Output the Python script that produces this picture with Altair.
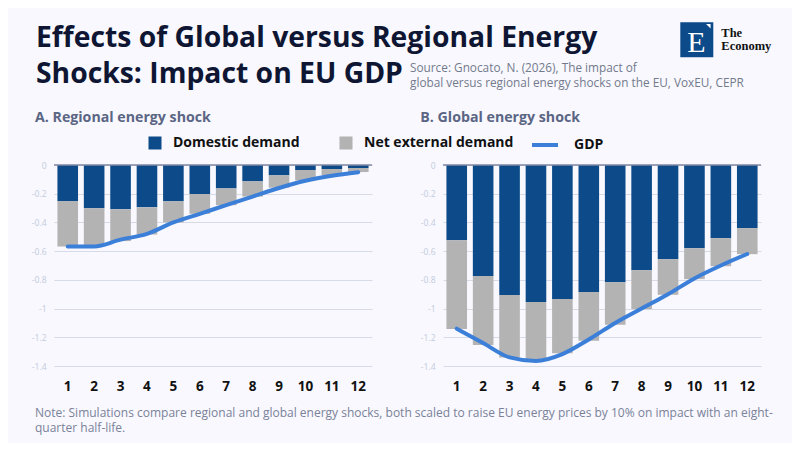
import altair as alt
import pandas as pd

quarters = list(range(1, 13))
components = ["Domestic demand", "Net external demand"]

reg_domestic = [-0.253, -0.302, -0.309, -0.295, -0.253, -0.202, -0.163, -0.114, -0.072, -0.035, -0.028, -0.021]
reg_external = [-0.314, -0.268, -0.221, -0.189, -0.147, -0.138, -0.117, -0.106, -0.086, -0.072, -0.044, -0.028]
reg_gdp = [-0.567, -0.567, -0.52, -0.48, -0.40, -0.34, -0.28, -0.22, -0.16, -0.11, -0.075, -0.05]

glo_domestic = [-0.524, -0.774, -0.906, -0.955, -0.934, -0.885, -0.816, -0.733, -0.656, -0.58, -0.51, -0.44]
glo_external = [-0.619, -0.48, -0.434, -0.403, -0.378, -0.339, -0.297, -0.271, -0.248, -0.215, -0.195, -0.181]
glo_gdp = [-1.14, -1.24, -1.34, -1.365, -1.317, -1.215, -1.10, -1.0, -0.90, -0.79, -0.70, -0.62]

y_ticks = [0, -0.2, -0.4, -0.6, -0.8, -1, -1.2, -1.4]

TITLE = "Effects of Global versus Regional Energy\nShocks: Impact on EU GDP"
SOURCE = "Source: Gnocato, N. (2026), The impact of\nglobal versus regional energy shocks on the EU, VoxEU, CEPR"
NOTE_1 = "Note: Simulations compare regional and global energy shocks, both scaled to raise EU energy prices by 10% on impact with an eight-"
NOTE_2 = "quarter half-life."
PANEL_A = "A. Regional energy shock"
PANEL_B = "B. Global energy shock"

BG = "#f8f8fe"
DARK_BLUE = "#0c4a89"
GREY = "#b3b3b3"
LINE_BLUE = "#3b7fd9"
FONT = "Open Sans"
W, H = 318, 201
Q_SORT = [str(q) for q in quarters]


def bars_df(dom, ext):
    rows = []
    for q, d, e in zip(quarters, dom, ext):
        rows.append({"quarter": str(q), "component": components[0], "value": d, "ord": 0})
        rows.append({"quarter": str(q), "component": components[1], "value": e, "ord": 1})
    return pd.DataFrame(rows)


def gdp_df(g):
    return pd.DataFrame({"quarter": Q_SORT, "series": ["GDP"] * 12, "value": g})


x_scale = alt.Scale(paddingInner=0.22, paddingOuter=0.13)
x_axis = alt.Axis(title=None, labelAngle=0, ticks=False, domain=False, grid=False,
                  labelFont=FONT, labelFontSize=13.5, labelFontWeight="bold",
                  labelColor="#111111", labelPadding=13)
y_scale = alt.Scale(domain=[-1.4, 0], nice=False)
y_axis = alt.Axis(title=None, values=y_ticks, labelExpr="datum.value + ''", ticks=False, domain=False,
                  grid=True, gridColor="#d6dbe7", gridWidth=1, labelFont=FONT, labelFontSize=8.5,
                  labelColor="#c3cbdc", labelPadding=8, labelOverlap=False, labelFlush=False)


def xe():
    return alt.X("quarter:N", sort=Q_SORT, scale=x_scale, axis=x_axis)


def ye(field):
    return alt.Y(field, scale=y_scale, axis=y_axis)


def text_layer(txt, x, y, size, color, weight="normal", font=FONT, align="left", baseline="alphabetic", lh=None):
    kw = {}
    if lh is not None:
        kw["lineHeight"] = lh
    return alt.Chart(pd.DataFrame({"t": [txt]})).mark_text(
        align=align, baseline=baseline, font=font, fontSize=size, fontWeight=weight,
        color=color, lineBreak="\n", **kw
    ).encode(text="t:N", x=alt.value(x), y=alt.value(y))


def panel(dom, ext, gdp):
    bars = alt.Chart(bars_df(dom, ext)).mark_bar().encode(
        x=xe(),
        y=alt.Y("value:Q", scale=y_scale, axis=y_axis, stack="zero"),
        fill=alt.Fill("component:N", scale=alt.Scale(domain=components, range=[DARK_BLUE, GREY]),
                      legend=alt.Legend(title=None, orient="none", direction="horizontal",
                                        legendX=94, legendY=-29, symbolType="square", symbolSize=169,
                                        symbolStrokeWidth=0, labelFont=FONT, labelFontSize=14,
                                        labelFontWeight="bold", labelColor="#111111", labelOffset=11,
                                        columnPadding=39, padding=0)),
        order=alt.Order("ord:Q", sort="ascending"),
    )
    zero = alt.Chart(pd.DataFrame({"z": [0]})).mark_rule(color="#7f88a3", strokeWidth=1.5).encode(
        y=ye("z:Q"), x=alt.value(0), x2=alt.value(W)
    )
    line = alt.Chart(gdp_df(gdp)).mark_line(strokeWidth=4, interpolate="monotone", strokeCap="round").encode(
        x=xe(),
        y=ye("value:Q"),
        stroke=alt.Stroke("series:N", scale=alt.Scale(domain=["GDP"], range=[LINE_BLUE]),
                          legend=alt.Legend(title=None, orient="none", legendX=476, legendY=-35,
                                            symbolType="stroke", symbolSize=676, symbolStrokeWidth=4,
                                            labelFont=FONT, labelFontSize=14, labelFontWeight="bold",
                                            labelColor="#111111", labelOffset=14, padding=0)),
    )
    return bars, zero, line


# Panel A (origin at page 54, 164.7)
ax0, ay0 = 54, 164.7
frame = alt.Chart(pd.DataFrame({"f": [0]})).mark_rect(color=BG, opacity=0).encode(
    x=alt.value(8 - ax0), x2=alt.value(792 - ax0), y=alt.value(8 - ay0), y2=alt.value(442 - ay0)
)
a_bars, a_zero, a_line = panel(reg_domestic, reg_external, reg_gdp)
a_layers = alt.layer(
    frame, a_bars, a_zero, a_line,
    text_layer(TITLE, 36 - ax0, 47 - ay0, 28.3, "#0e1633", weight="bold", lh=36),
    text_layer(SOURCE, 410 - ax0, 72 - ay0, 11.8, "#737a8c", lh=15),
    text_layer(PANEL_A, 35 - ax0, 122 - ay0, 14.2, "#5b6584", weight="bold"),
    text_layer(NOTE_1, 35 - ax0, 416.5 - ay0, 12, "#7a8299"),
    text_layer(NOTE_2, 35 - ax0, 432 - ay0, 12, "#7a8299"),
).properties(width=W, height=H)

# Panel B (origin at page 442.7, 164.7)
bx0, by0 = 442.7, 164.7
b_bars, b_zero, b_line = panel(glo_domestic, glo_external, glo_gdp)
logo_box = alt.Chart(pd.DataFrame({"f": [0]})).mark_rect(color="#0c4a89").encode(
    x=alt.value(680 - bx0), x2=alt.value(713 - bx0), y=alt.value(22 - by0), y2=alt.value(57 - by0)
)
logo_corner = alt.Chart(pd.DataFrame({"f": [0]})).mark_point(
    shape="M -1 -1 L 1 -1 L 1 1 Z", filled=True, color="white", opacity=1, size=20, strokeWidth=0
).encode(x=alt.value(708 - bx0), y=alt.value(26 - by0))
b_layers = alt.layer(
    b_bars, b_zero, b_line,
    text_layer(PANEL_B, 420 - bx0, 122 - by0, 14.2, "#5b6584", weight="bold"),
    logo_box, logo_corner,
    text_layer("E", 696 - bx0, 51.5 - by0, 30, "white", font="Liberation Serif", align="center"),
    text_layer("The", 721 - bx0, 37 - by0, 12.5, "#111111", weight="bold", font="Liberation Serif"),
    text_layer("Economy", 721 - bx0, 50 - by0, 12.5, "#111111", weight="bold", font="Liberation Serif"),
).properties(width=W, height=H)

chart = alt.hconcat(a_layers, b_layers, spacing=71, bounds="flush").resolve_scale(
    y="shared"
).properties(
    padding=0, background=BG
).configure_view(stroke=None).configure_legend(padding=0).configure_axisY(labelOverlap=False)

chart.save("out.html", embed_options={"renderer": "svg", "actions": False})
